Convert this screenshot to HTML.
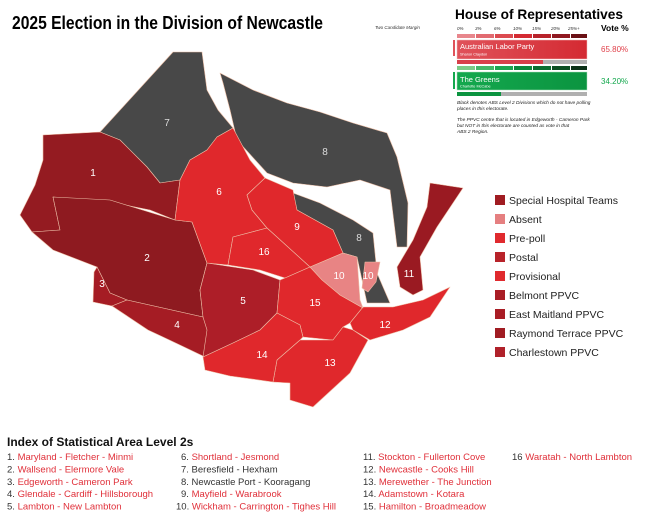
<!DOCTYPE html>
<html><head><meta charset="utf-8"><style>body{margin:0;background:#fff}svg{display:block;font-family:"Liberation Sans",sans-serif}</style></head><body>
<svg width="650" height="521" viewBox="0 0 650 521" xmlns="http://www.w3.org/2000/svg">
<defs>
<linearGradient id="rg" x1="0" x2="1"><stop offset="0" stop-color="#e0525a"/><stop offset="1" stop-color="#d42a32"/></linearGradient>
<linearGradient id="gg" x1="0" x2="1"><stop offset="0" stop-color="#14a84e"/><stop offset="1" stop-color="#0b9440"/></linearGradient>
</defs>
<text x="12" y="29" font-size="18" font-weight="bold" textLength="311" lengthAdjust="spacingAndGlyphs">2025 Election in the Division of Newcastle</text>
<text x="375" y="29" font-size="4.5" font-style="italic" fill="#333">Two Candidate Margin</text>
<text x="455" y="19" font-size="14" font-weight="bold" textLength="168" lengthAdjust="spacingAndGlyphs">House of Representatives</text>
<g font-size="4.5" fill="#333" font-style="italic"><text x="457" y="30">0%</text><text x="475" y="30">3%</text><text x="494" y="30">6%</text><text x="513" y="30">10%</text><text x="532" y="30">15%</text><text x="551" y="30">20%</text><text x="568" y="30">25%+</text></g>
<text x="601" y="31" font-size="8.5" font-weight="bold">Vote %</text>
<g><rect x="457" y="34" width="18" height="4" fill="#e8868c"/><rect x="476" y="34" width="18" height="4" fill="#e26a70"/><rect x="495" y="34" width="18" height="4" fill="#dc4a50"/><rect x="514" y="34" width="18" height="4" fill="#d42a32"/><rect x="533" y="34" width="18" height="4" fill="#b8222a"/><rect x="552" y="34" width="18" height="4" fill="#901820"/><rect x="571" y="34" width="16" height="4" fill="#6a1015"/></g>
<rect x="453" y="40" width="2" height="16" fill="#e0525a"/>
<rect x="457" y="40" width="130" height="19" fill="url(#rg)" stroke="#f3c0c0" stroke-width="0.5"/>
<text x="460" y="49" font-size="7.5" fill="#fff">Australian Labor Party</text>
<text x="460" y="55.5" font-size="3.8" fill="#fff">Sharon Claydon</text>
<rect x="457" y="60" width="130" height="4" fill="#b0b0b0"/><rect x="457" y="60" width="86" height="4" fill="#d8404a"/>
<text x="601" y="52" font-size="8" fill="#e0404a">65.80%</text>
<g><rect x="457" y="66" width="18" height="4" fill="#7ccc88"/><rect x="476" y="66" width="18" height="4" fill="#45b868"/><rect x="495" y="66" width="18" height="4" fill="#1ea650"/><rect x="514" y="66" width="18" height="4" fill="#0c8a3c"/><rect x="533" y="66" width="18" height="4" fill="#0a6e30"/><rect x="552" y="66" width="18" height="4" fill="#0b4e22"/><rect x="571" y="66" width="16" height="4" fill="#0a3016"/></g>
<rect x="453" y="72" width="2" height="17" fill="#14a84e"/>
<rect x="457" y="72" width="130" height="18" fill="url(#gg)" stroke="#b0e0c0" stroke-width="0.5"/>
<text x="460" y="82" font-size="7.5" fill="#fff">The Greens</text>
<text x="460" y="87.5" font-size="3.8" fill="#fff">Charlotte McCabe</text>
<rect x="457" y="92" width="130" height="4" fill="#b0b0b0"/><rect x="457" y="92" width="44" height="4" fill="#0b9440"/>
<text x="601" y="84" font-size="8" fill="#14a84e">34.20%</text>
<g font-size="4.8" font-style="italic" fill="#222"><text x="457" y="104">Black denotes ABS Level 2 Divisions which do not have polling</text><text x="457" y="110">places in this electorate.</text><text x="457" y="121">The PPVC centre that is located in Edgeworth - Cameron Park</text><text x="457" y="127">but NOT in this electorate are counted as vote in that</text><text x="457" y="133">ABS 2 Region.</text></g>

<g stroke="#eec0a8" stroke-width="0.6" stroke-linejoin="round">
<polygon fill="#484848" points="173,52 202,52 207,90 218,110 233,128 217,137 207,150 190,160 180,180 160,183 147,167 120,140 100,132"/>
<polygon fill="#484848" points="220,73 253,90 287,103 320,112 353,123 387,133 397,157 408,203 407,247 397,247 390,190 360,180 327,187 293,183 267,173 237,140 230,110 223,83"/>
<polygon fill="#484848" points="293,193 320,203 353,220 373,233 377,273 390,303 367,303 357,257 343,253 333,230 297,210"/>
<polygon fill="#9a1a22" points="430,183 463,188 437,227 420,257 423,290 413,295 400,287 397,267 413,240 427,207"/>
<polygon fill="#941b21" points="43,135 100,132 120,140 147,167 160,183 180,180 175,220 150,210 110,202 53,197 60,230 32,232 20,215 35,185 43,160"/>
<polygon fill="#8e1a20" points="53,197 110,200 175,220 192,222 207,263 200,290 203,317 127,300 110,293 97,267 53,250 32,232 60,230"/>
<polygon fill="#a51c24" points="97,267 110,293 127,300 112,306 93,302 94,272"/>
<polygon fill="#a51c24" points="112,306 127,300 203,317 213,330 205,357 182,346 163,337 148,330 130,318"/>
<polygon fill="#ad1e28" points="207,263 253,270 280,280 277,313 260,330 233,343 203,357 207,330 203,317 200,290"/>
<polygon fill="#e0282c" points="233,128 250,160 265,178 247,195 252,210 267,228 233,237 228,265 207,263 192,222 175,220 180,180 190,160 207,150 217,137"/>
<polygon fill="#e0282c" points="265,178 293,190 297,210 333,230 343,253 310,267 267,228 252,210 247,195"/>
<polygon fill="#e0282c" points="233,237 267,228 310,267 285,278 260,270 228,265"/>
<polygon fill="#e0282c" points="285,278 310,267 340,295 363,308 350,323 343,327 333,340 303,337 300,325 277,313 280,280"/>
<polygon fill="#e0282c" points="363,307 393,307 423,300 450,287 430,317 403,330 370,340 353,330 350,323"/>
<polygon fill="#e0282c" points="368,340 350,373 313,407 290,400 290,383 273,382 277,360 300,340 333,340 343,327 353,330"/>
<polygon fill="#e0282c" points="203,357 233,343 260,330 277,313 300,325 303,337 300,340 277,360 273,382 230,376 205,370"/>
<polygon fill="#e88484" points="310,267 343,253 357,257 360,300 363,308 340,295 322,280"/>
<polygon fill="#e88484" points="365,262 380,262 376,282 368,292 362,288"/>
</g>
<g font-size="10" fill="#fff" text-anchor="middle"><text x="167" y="126" fill="#ddd">7</text><text x="325" y="155" fill="#ddd">8</text><text x="359" y="241" fill="#ddd">8</text><text x="93" y="176">1</text><text x="147" y="261">2</text><text x="102" y="287">3</text><text x="177" y="328">4</text><text x="243" y="304">5</text><text x="219" y="195">6</text><text x="297" y="230">9</text><text x="264" y="255">16</text><text x="339" y="279">10</text><text x="368" y="279">10</text><text x="409" y="277">11</text><text x="385" y="328">12</text><text x="330" y="366">13</text><text x="262" y="358">14</text><text x="315" y="306">15</text></g>

<g font-size="10.5" fill="#222">
<rect x="495" y="195" width="10" height="10" fill="#a01c22"/><text x="509" y="204">Special Hospital Teams</text>
<rect x="495" y="214" width="10" height="10" fill="#e57f80"/><text x="509" y="223">Absent</text>
<rect x="495" y="233" width="10" height="10" fill="#e02a2e"/><text x="509" y="242">Pre-poll</text>
<rect x="495" y="252" width="10" height="10" fill="#b8232a"/><text x="509" y="261">Postal</text>
<rect x="495" y="271" width="10" height="10" fill="#e02a2e"/><text x="509" y="280">Provisional</text>
<rect x="495" y="290" width="10" height="10" fill="#a91d25"/><text x="509" y="299">Belmont PPVC</text>
<rect x="495" y="309" width="10" height="10" fill="#a91d25"/><text x="509" y="318">East Maitland PPVC</text>
<rect x="495" y="328" width="10" height="10" fill="#a01c22"/><text x="509" y="337">Raymond Terrace PPVC</text>
<rect x="495" y="347" width="10" height="10" fill="#b0212a"/><text x="509" y="356">Charlestown PPVC</text>
</g>

<text x="7" y="446" font-size="12" font-weight="bold" fill="#111">Index of Statistical Area Level 2s</text>
<g font-size="9.5" fill="#333">
<text x="7" y="460">1. <tspan fill="#e0303a">Maryland - Fletcher - Minmi</tspan></text>
<text x="7" y="472.5">2. <tspan fill="#e0303a">Wallsend - Elermore Vale</tspan></text>
<text x="7" y="485">3. <tspan fill="#e0303a">Edgeworth - Cameron Park</tspan></text>
<text x="7" y="497">4. <tspan fill="#e0303a">Glendale - Cardiff - Hillsborough</tspan></text>
<text x="7" y="509.5">5. <tspan fill="#e0303a">Lambton - New Lambton</tspan></text>
<text x="181" y="460">6. <tspan fill="#e0303a">Shortland - Jesmond</tspan></text>
<text x="181" y="472.5">7. Beresfield - Hexham</text>
<text x="181" y="485">8. Newcastle Port - Kooragang</text>
<text x="181" y="497">9. <tspan fill="#e0303a">Mayfield - Warabrook</tspan></text>
<text x="176" y="509.5">10. <tspan fill="#e0303a">Wickham - Carrington - Tighes Hill</tspan></text>
<text x="363" y="460">11. <tspan fill="#e0303a">Stockton - Fullerton Cove</tspan></text>
<text x="363" y="472.5">12. <tspan fill="#e0303a">Newcastle - Cooks Hill</tspan></text>
<text x="363" y="485">13. <tspan fill="#e0303a">Merewether - The Junction</tspan></text>
<text x="363" y="497">14. <tspan fill="#e0303a">Adamstown - Kotara</tspan></text>
<text x="363" y="509.5">15. <tspan fill="#e0303a">Hamilton - Broadmeadow</tspan></text>
<text x="512" y="460">16 <tspan fill="#e0303a">Waratah - North Lambton</tspan></text>
</g>
</svg>
</body></html>
